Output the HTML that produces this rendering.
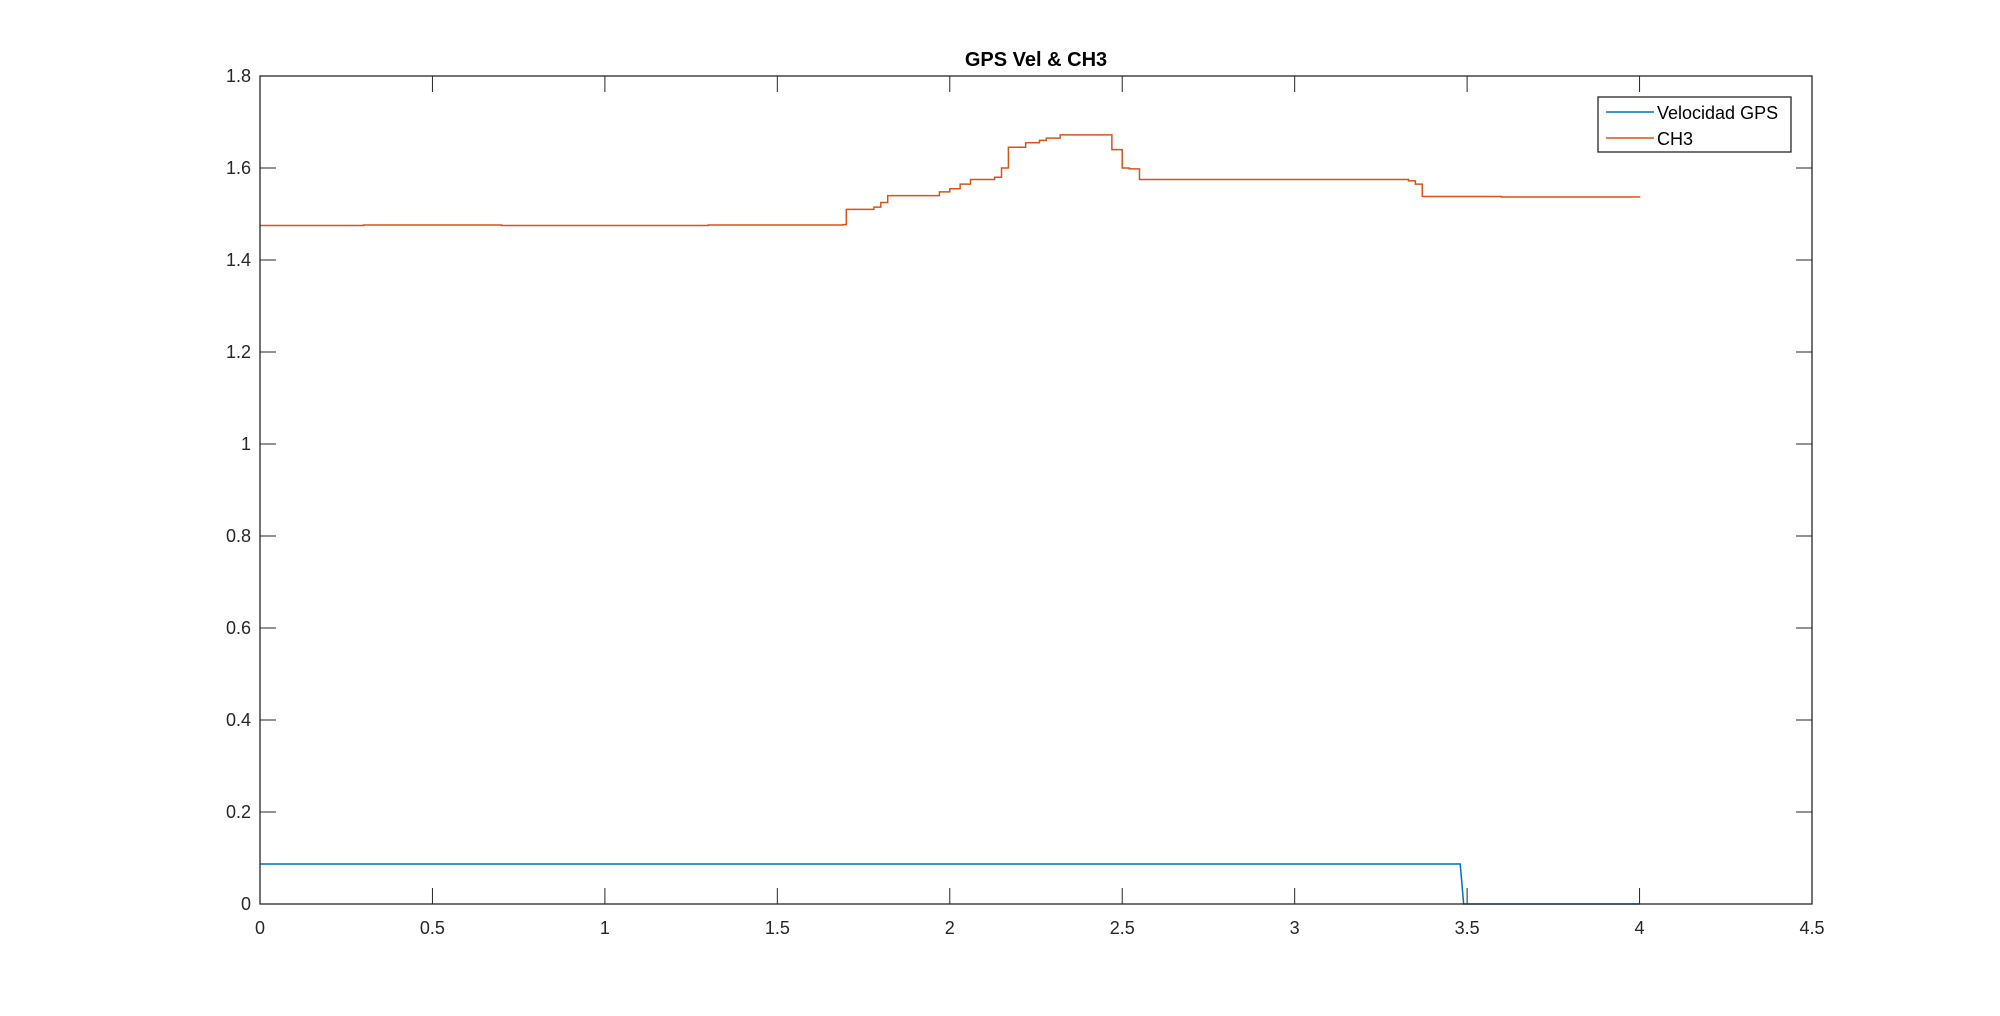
<!DOCTYPE html>
<html><head><meta charset="utf-8"><style>
html,body{margin:0;padding:0;background:#fff;}
svg{display:block;font-family:"Liberation Sans",Arial,sans-serif;}
</style></head><body>
<svg id="chart" width="2000" height="1016" xmlns="http://www.w3.org/2000/svg">
<rect x="0" y="0" width="2000" height="1016" fill="#fff"/>
<rect x="260" y="76" width="1552" height="828" fill="#fff"/>
<g id="grid"></g>
<g id="series"></g>
<rect x="260" y="76" width="1552" height="828" fill="none" stroke="#262626" stroke-width="1.3"/>
<text x="1036" y="66" text-anchor="middle" font-size="20" font-weight="bold" fill="#000">GPS Vel &amp; CH3</text>
<g>
<rect x="1598" y="97" width="193" height="55" fill="#fff" stroke="#262626" stroke-width="1.3"/>
<line x1="1606" y1="112" x2="1654" y2="112" stroke="#0072BD" stroke-width="1.5"/>
<text x="1657" y="119" font-size="18" fill="#000">Velocidad GPS</text>
<line x1="1606" y1="138" x2="1654" y2="138" stroke="#D95319" stroke-width="1.5"/>
<text x="1657" y="145" font-size="18" fill="#000">CH3</text>
</g>
</svg>
<script>
const xTicks = [0,0.5,1,1.5,2,2.5,3,3.5,4,4.5];
const xTickLabels = ["0","0.5","1","1.5","2","2.5","3","3.5","4","4.5"];
const yTicks = [0,0.2,0.4,0.6,0.8,1,1.2,1.4,1.6,1.8];
const yTickLabels = ["0","0.2","0.4","0.6","0.8","1","1.2","1.4","1.6","1.8"];
const velX = [0,3.48,3.49,4.0];
const velY = [0.087,0.087,0,0];
const ch3X = [0,0.3,0.7,1.0,1.3,1.69,1.7,1.78,1.8,1.82,1.9,1.97,2.0,2.03,2.06,2.1,2.13,2.15,2.17,2.22,2.26,2.28,2.32,2.44,2.47,2.5,2.52,2.55,2.6,3.0,3.33,3.35,3.37,3.6,4.0];
const ch3Y = [1.475,1.476,1.475,1.475,1.476,1.477,1.51,1.515,1.525,1.54,1.54,1.548,1.555,1.565,1.575,1.575,1.58,1.6,1.645,1.655,1.66,1.665,1.672,1.672,1.64,1.6,1.598,1.575,1.575,1.575,1.572,1.565,1.538,1.537,1.538];
const L=260,R=1812,T=76,B=904;
const sx=v=>L+(v-0)/(4.5-0)*(R-L);
const sy=v=>B-(v-0)/(1.8-0)*(B-T);
const NS="http://www.w3.org/2000/svg";
const svg=document.getElementById('chart');
const grid=document.getElementById('grid');
const series=document.getElementById('series');
function mk(tag,attrs,parent){const e=document.createElementNS(NS,tag);for(const k in attrs)e.setAttribute(k,attrs[k]);parent.appendChild(e);return e;}
xTicks.forEach((v,i)=>{
  const x=sx(v);
  const t1=mk('line',{x1:x,y1:B,x2:x,y2:B-16,stroke:'#262626','stroke-width':1},grid);
  
  
  const t2=mk('line',{x1:x,y1:T,x2:x,y2:T+16,stroke:'#262626','stroke-width':1},grid);
  
  
  const tx=mk('text',{x:x,y:B+30,'text-anchor':'middle','font-size':18,fill:'#262626'},grid);
  tx.textContent=xTickLabels[i];
  
  
});
yTicks.forEach((v,i)=>{
  const y=sy(v);
  const t1=mk('line',{x1:L,y1:y,x2:L+16,y2:y,stroke:'#262626','stroke-width':1},grid);
  
  
  const t2=mk('line',{x1:R,y1:y,x2:R-16,y2:y,stroke:'#262626','stroke-width':1},grid);
  
  
  const tx=mk('text',{x:L-9,y:y+6,'text-anchor':'end','font-size':18,fill:'#262626'},grid);
  tx.textContent=yTickLabels[i];
  
  
});
function stepPath(xs,ys){let d='';for(let i=0;i<xs.length;i++){const x=sx(xs[i]),y=sy(ys[i]);if(i===0)d+='M'+x+' '+y;else{d+=' L'+x+' '+sy(ys[i-1])+' L'+x+' '+y;}}return d;}
function linePath(xs,ys){return xs.map((v,i)=>(i?'L':'M')+sx(v)+' '+sy(ys[i])).join(' ');}
const p1=mk('path',{d:linePath(velX,velY),fill:'none',stroke:'#0072BD','stroke-width':1.5},series);


const p2=mk('path',{d:stepPath(ch3X,ch3Y),fill:'none',stroke:'#D95319','stroke-width':1.5},series);


</script>
</body></html>
